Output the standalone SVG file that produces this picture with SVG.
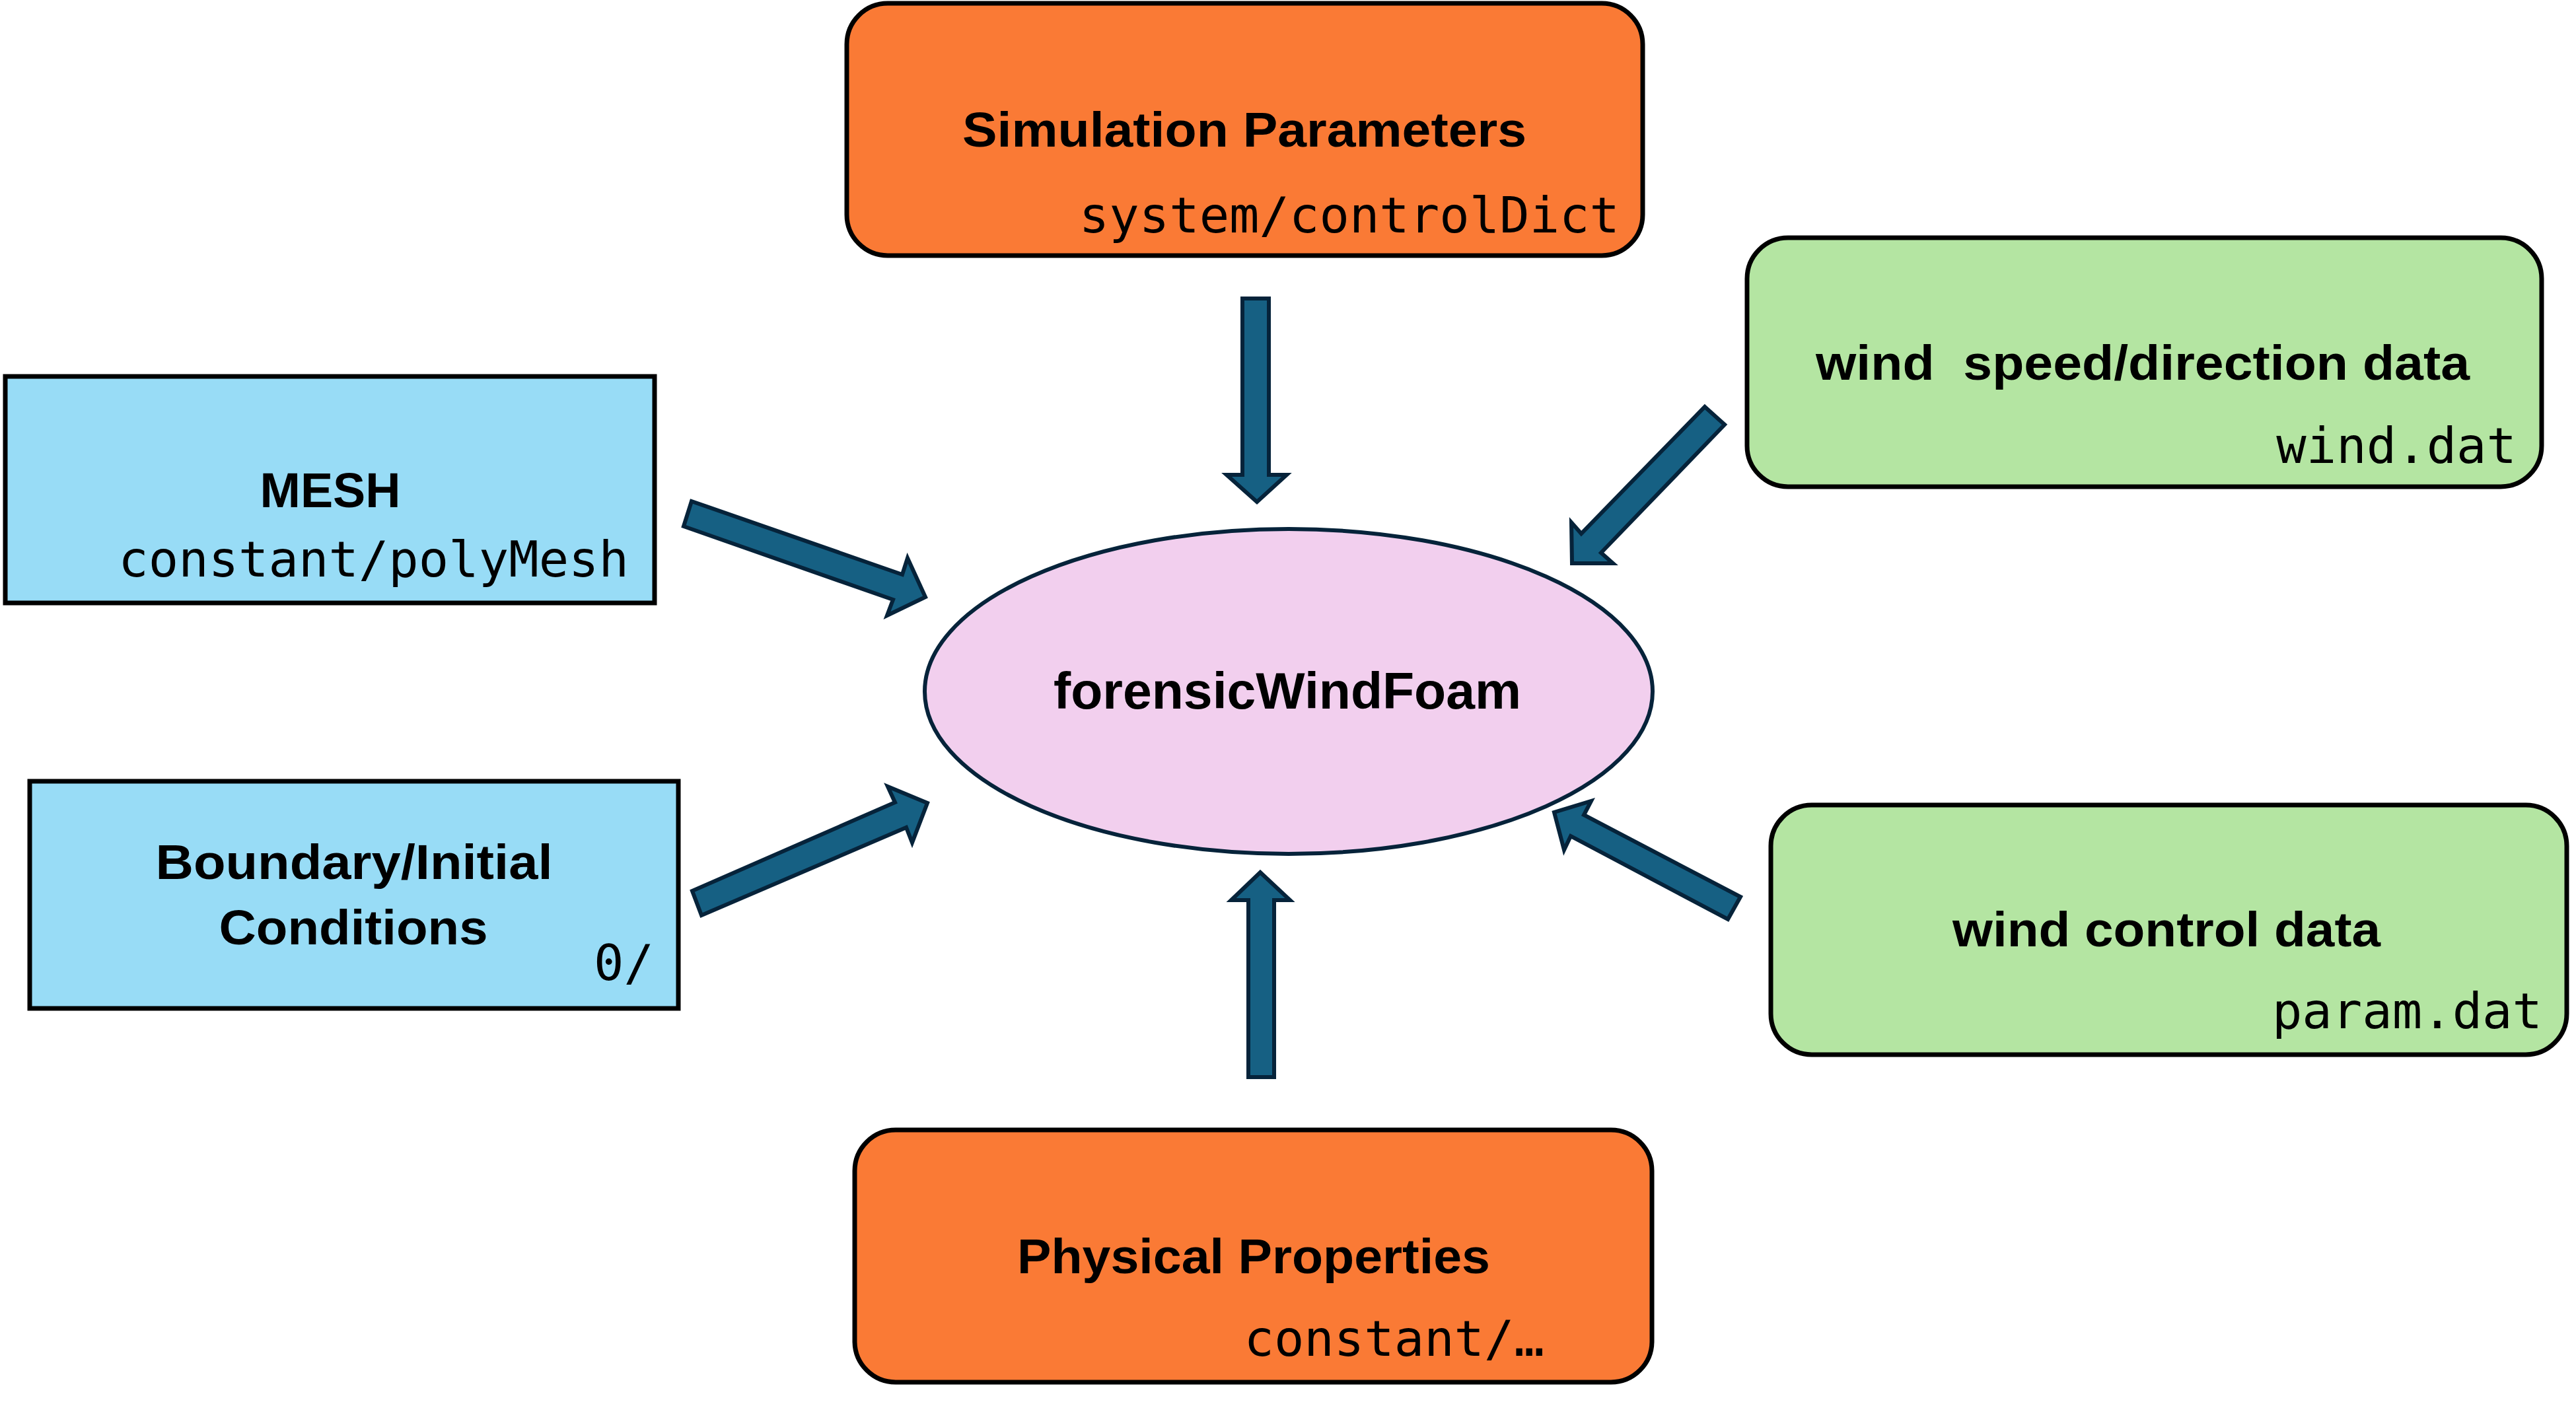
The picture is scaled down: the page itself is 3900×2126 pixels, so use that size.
<svg xmlns="http://www.w3.org/2000/svg" width="3900" height="2126" viewBox="0 0 3900 2126">
<style>
.box{stroke:#000;stroke-width:7}
.orange{fill:#FA7A35}
.blue{fill:#98DCF6}
.green{fill:#B4E5A2}
.title{font-family:"Liberation Sans",Arial,sans-serif;font-weight:bold;font-size:75px;fill:#000;text-anchor:middle;white-space:pre}
.mono{font-family:"DejaVu Sans Mono","Liberation Mono",monospace;font-size:75.5px;fill:#000;text-anchor:end}
.arrow{fill:#166083;stroke:#06233A;stroke-width:6;stroke-linejoin:miter}
</style>
<rect width="3900" height="2126" fill="#fff"/>
<g id="connectors">
<polygon class="arrow" points="1881,452 1921,452 1921,719 1948,719 1903,760 1857,719 1881,719"/>
<polygon class="arrow" points="1890,1631 1929,1631 1929,1363 1953,1363 1908,1321 1864,1363 1890,1363"/>
<polygon class="arrow" points="1047,759 1035,797 1352,908 1343,932 1401,904 1374,845 1366,870"/>
<polygon class="arrow" points="1062,1386 1048,1349 1355,1215 1344,1191 1404,1216 1381,1276 1372,1253"/>
<polygon class="arrow" points="2581,616 2611,643 2424,837 2442,853 2380,853 2379,791 2394,808"/>
<polygon class="arrow" points="2635,1358 2616,1392 2378,1266 2368,1287 2353,1230 2409,1213 2398,1234"/>
</g>
<g id="node-sim">
<rect class="box orange" x="1282" y="5" width="1205" height="382" rx="62" ry="62"/>
<text class="title" x="1884" y="222" textLength="854" lengthAdjust="spacingAndGlyphs">Simulation Parameters</text>
<text class="mono" x="2452" y="352">system/controlDict</text>
</g>
<g id="node-mesh">
<rect class="box blue" x="8" y="570" width="983" height="343"/>
<text class="title" x="500" y="768" textLength="213" lengthAdjust="spacingAndGlyphs">MESH</text>
<text class="mono" x="952" y="873">constant/polyMesh</text>
</g>
<g id="node-boundary">
<rect class="box blue" x="45" y="1183" width="982" height="344"/>
<text class="title" x="536" y="1331" textLength="601" lengthAdjust="spacingAndGlyphs">Boundary/Initial</text>
<text class="title" x="535" y="1430" textLength="407" lengthAdjust="spacingAndGlyphs">Conditions</text>
<text class="mono" x="990" y="1484">0/</text>
</g>
<g id="node-windspeed">
<rect class="box green" x="2645" y="360" width="1203" height="377" rx="62" ry="62"/>
<text class="title" x="3244" y="575" textLength="990" lengthAdjust="spacingAndGlyphs" xml:space="preserve">wind  speed/direction data</text>
<text class="mono" x="3810" y="701">wind.dat</text>
</g>
<g id="node-windcontrol">
<rect class="box green" x="2681" y="1219" width="1205" height="378" rx="62" ry="62"/>
<text class="title" x="3280" y="1433" textLength="648" lengthAdjust="spacingAndGlyphs">wind control data</text>
<text class="mono" x="3849" y="1557">param.dat</text>
</g>
<g id="node-physical">
<rect class="box orange" x="1294" y="1711" width="1207" height="382" rx="62" ry="62"/>
<text class="title" x="1898" y="1928" textLength="716" lengthAdjust="spacingAndGlyphs">Physical Properties</text>
<text class="mono" x="2338" y="2053">constant/…</text>
</g>
<g id="node-solver">
<ellipse cx="1951" cy="1047" rx="551" ry="246" fill="#F2CFEE" stroke="#06233A" stroke-width="6"/>
<text class="title" x="1949" y="1073" style="font-size:78px" textLength="708" lengthAdjust="spacingAndGlyphs">forensicWindFoam</text>
</g>
</svg>
